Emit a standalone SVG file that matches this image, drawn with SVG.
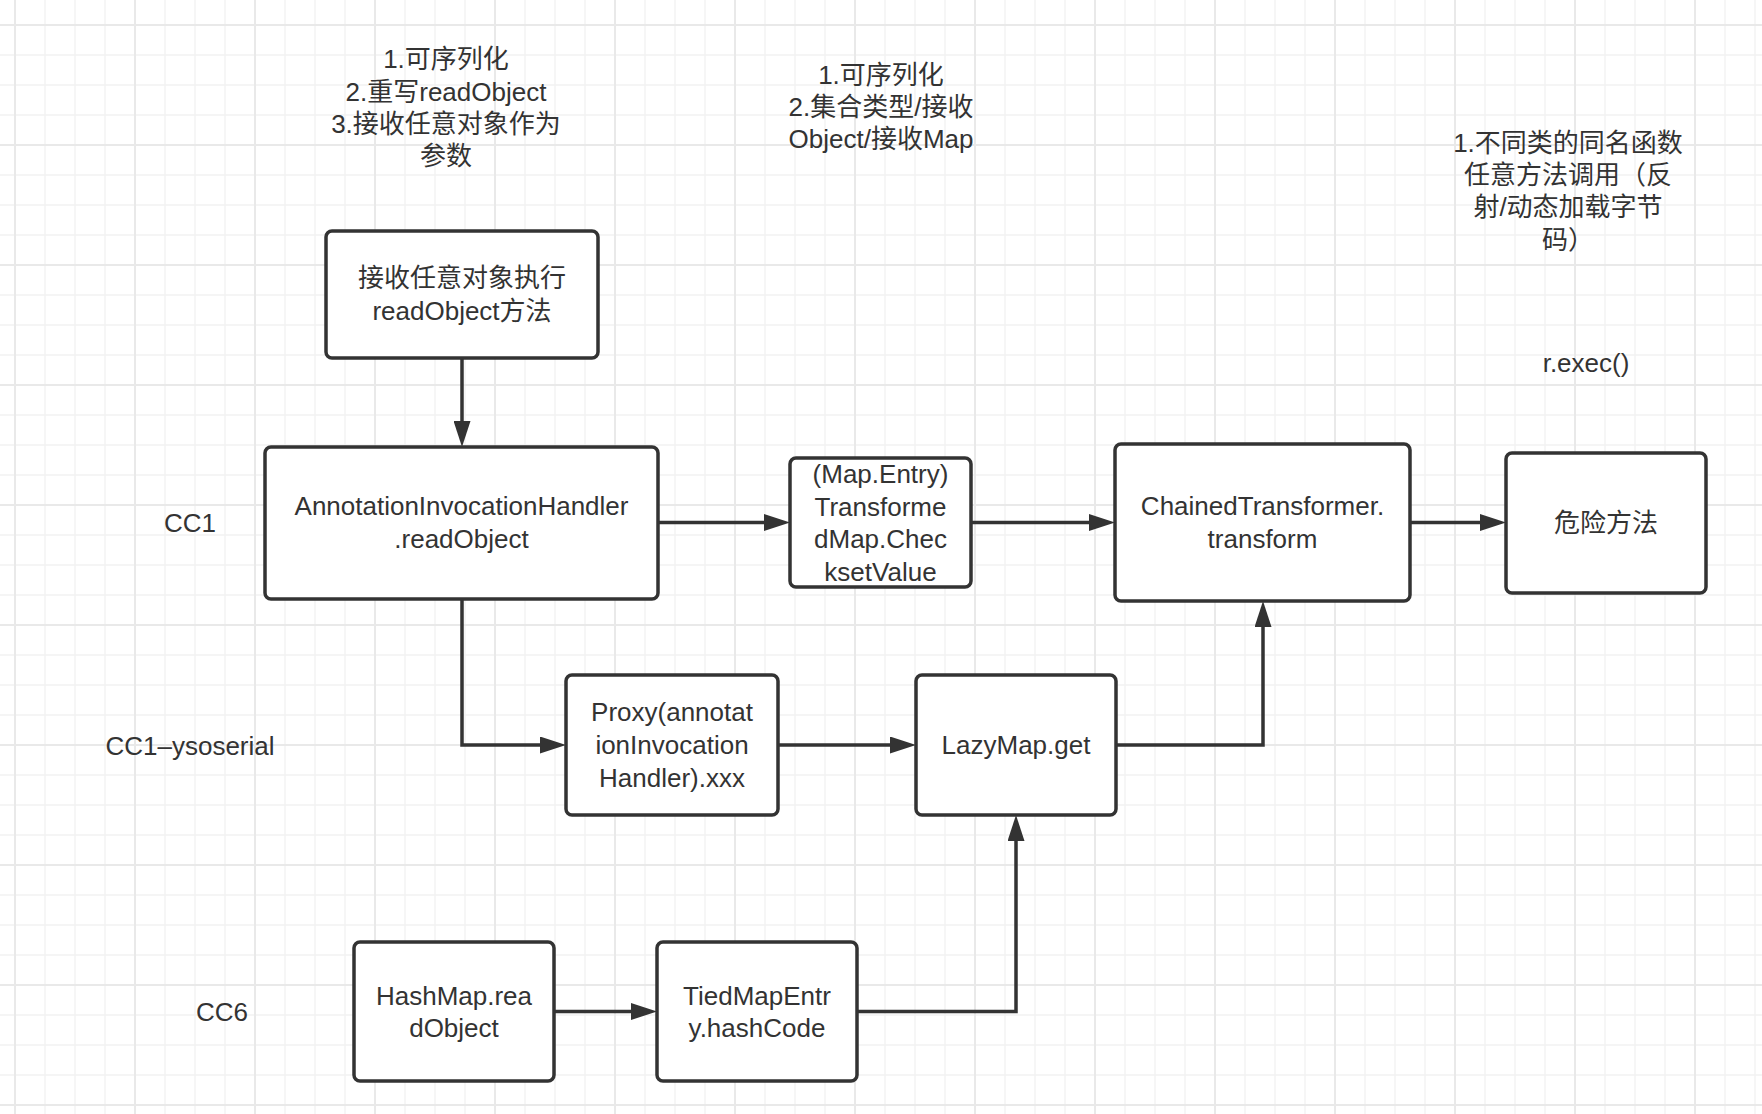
<svg xmlns="http://www.w3.org/2000/svg" width="1762" height="1114" viewBox="0 0 1762 1114">
  <style>
    .node rect { fill: #ffffff; stroke: #333333; stroke-width: 3.5; }
    .t { font-family: "Liberation Sans", "Noto Sans CJK SC", sans-serif; font-size: 26px; fill: #333333; text-anchor: middle; }
    .edge { fill: none; stroke: #333333; stroke-width: 3.5; marker-end: url(#arrow); }
  </style>
  <defs>
    <pattern id="gridMinor" patternUnits="userSpaceOnUse" x="0" y="10" width="30" height="30">
      <path d="M15 0 V30 M0 15 H30" stroke="#f2f2f2" stroke-width="1.3" fill="none"/>
    </pattern>
    <pattern id="gridMajor" patternUnits="userSpaceOnUse" x="-45" y="-35" width="120" height="120">
      <path d="M60 0 V120 M0 60 H120" stroke="#e9e9e9" stroke-width="2" fill="none"/>
    </pattern>
    <marker id="arrow" markerUnits="userSpaceOnUse" markerWidth="26" markerHeight="17" refX="2" refY="8.5" orient="auto">
      <path d="M0 0 L26 8.5 L0 17 Z" fill="#333333"/>
    </marker>
  </defs>

  <!-- canvas grid -->
  <rect width="1762" height="1114" fill="#ffffff"/>
  <rect width="1762" height="1114" fill="url(#gridMinor)"/>
  <rect width="1762" height="1114" fill="url(#gridMajor)"/>

  <!-- notes -->
  <g id="note-cc1">
    <text class="t" x="446" y="68">1.可序列化</text>
    <text class="t" x="446" y="101">2.重写readObject</text>
    <text class="t" x="446" y="133">3.接收任意对象作为</text>
    <text class="t" x="446" y="165">参数</text>
  </g>
  <g id="note-transformedmap">
    <text class="t" x="881" y="84">1.可序列化</text>
    <text class="t" x="881" y="116">2.集合类型/接收</text>
    <text class="t" x="881" y="148">Object/接收Map</text>
  </g>
  <g id="note-transformer">
    <text class="t" x="1568" y="152">1.不同类的同名函数</text>
    <text class="t" x="1568" y="184">任意方法调用（反</text>
    <text class="t" x="1568" y="216">射/动态加载字节</text>
    <text class="t" x="1568" y="249">码）</text>
  </g>
  <g id="note-exec">
    <text class="t" x="1586" y="372">r.exec()</text>
  </g>

  <!-- row labels -->
  <g id="label-cc1"><text class="t" x="190" y="532">CC1</text></g>
  <g id="label-cc1-ysoserial"><text class="t" x="190" y="755">CC1–ysoserial</text></g>
  <g id="label-cc6"><text class="t" x="222" y="1021">CC6</text></g>

  <!-- connectors -->
  <g id="edges">
    <path class="edge" d="M462 358 V423"/>
    <path class="edge" d="M657 522.5 H766"/>
    <path class="edge" d="M971 522.5 H1091"/>
    <path class="edge" d="M1410 522.5 H1482"/>
    <path class="edge" d="M462 599 V745 H542"/>
    <path class="edge" d="M778 745 H892"/>
    <path class="edge" d="M1116 745 H1263 V625"/>
    <path class="edge" d="M554 1011.5 H633"/>
    <path class="edge" d="M857 1011.5 H1016 V839"/>
  </g>

  <!-- nodes -->
  <g id="node-entry" class="node">
    <rect x="326" y="231" width="272" height="127" rx="6"/>
    <text class="t" x="462" y="287">接收任意对象执行</text>
    <text class="t" x="462" y="320">readObject方法</text>
  </g>
  <g id="node-annotation-handler" class="node">
    <rect x="265" y="447" width="393" height="152" rx="6"/>
    <text class="t" x="461.5" y="515">AnnotationInvocationHandler</text>
    <text class="t" x="461.5" y="548">.readObject</text>
  </g>
  <g id="node-transformedmap" class="node">
    <rect x="790" y="458" width="181" height="129" rx="6"/>
    <text class="t" x="880.5" y="483">(Map.Entry)</text>
    <text class="t" x="880.5" y="516">Transforme</text>
    <text class="t" x="880.5" y="548">dMap.Chec</text>
    <text class="t" x="880.5" y="581">ksetValue</text>
  </g>
  <g id="node-chained" class="node">
    <rect x="1115" y="444" width="295" height="157" rx="6"/>
    <text class="t" x="1262.5" y="515">ChainedTransformer.</text>
    <text class="t" x="1262.5" y="548">transform</text>
  </g>
  <g id="node-danger" class="node">
    <rect x="1506" y="453" width="200" height="140" rx="6"/>
    <text class="t" x="1606" y="532">危险方法</text>
  </g>
  <g id="node-proxy" class="node">
    <rect x="566" y="675" width="212" height="140" rx="6"/>
    <text class="t" x="672" y="721">Proxy(annotat</text>
    <text class="t" x="672" y="754">ionInvocation</text>
    <text class="t" x="672" y="787">Handler).xxx</text>
  </g>
  <g id="node-lazymap" class="node">
    <rect x="916" y="675" width="200" height="140" rx="6"/>
    <text class="t" x="1016" y="754">LazyMap.get</text>
  </g>
  <g id="node-hashmap" class="node">
    <rect x="354" y="942" width="200" height="139" rx="6"/>
    <text class="t" x="454" y="1005">HashMap.rea</text>
    <text class="t" x="454" y="1037">dObject</text>
  </g>
  <g id="node-tiedmapentry" class="node">
    <rect x="657" y="942" width="200" height="139" rx="6"/>
    <text class="t" x="757" y="1005">TiedMapEntr</text>
    <text class="t" x="757" y="1037">y.hashCode</text>
  </g>
</svg>
